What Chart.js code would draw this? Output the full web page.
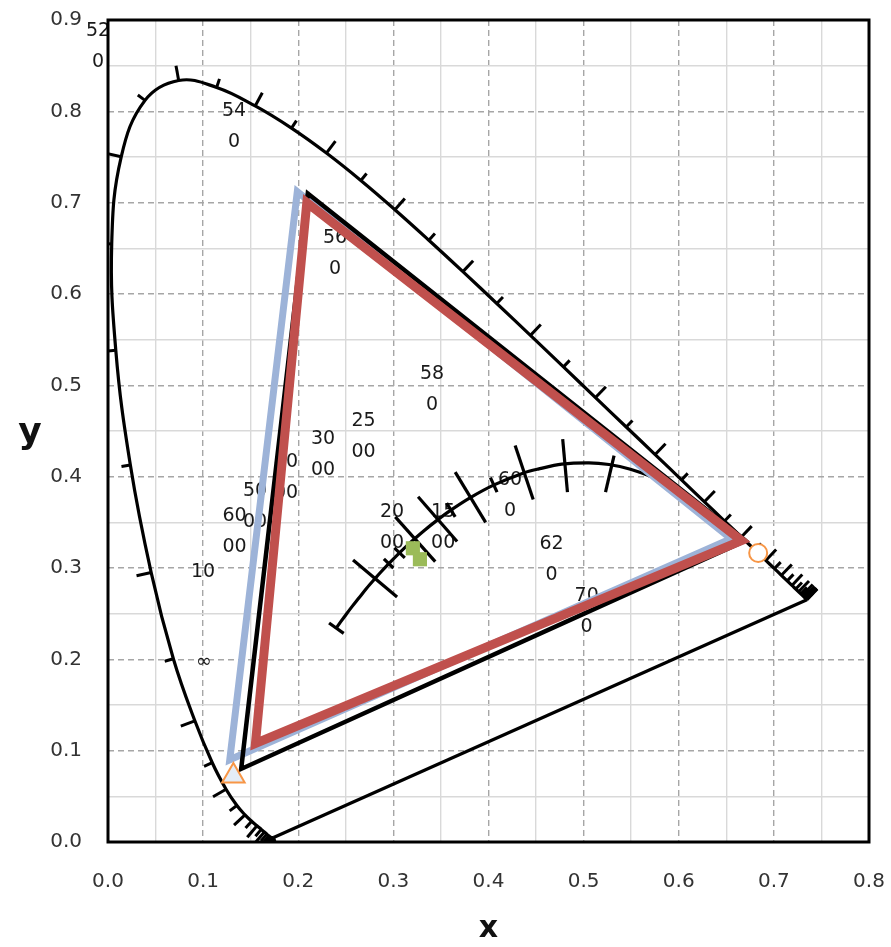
<!DOCTYPE html>
<html><head><meta charset="utf-8">
<script src="https://cdn.jsdelivr.net/npm/chart.js@4.4.0/dist/chart.umd.min.js"></script>
<style>html,body{margin:0;padding:0;background:#fff}canvas{display:block}</style>
</head><body>
<canvas id="c" width="891" height="947"></canvas>
<script>
// ---- Spectral locus (CIE 1931 2°), 5 nm steps ----
const wavelengths = [380,385,390,395,400,405,410,415,420,425,430,435,440,445,450,455,460,465,470,475,480,485,490,495,500,505,510,515,520,525,530,535,540,545,550,555,560,565,570,575,580,585,590,595,600,605,610,615,620,625,630,635,640,645,650,655,660,665,670,675,680,685,690,695,700];
const locusX = [0.1741,0.1740,0.1738,0.1736,0.1733,0.1730,0.1726,0.1721,0.1714,0.1703,0.1689,0.1669,0.1644,0.1611,0.1566,0.1510,0.1440,0.1355,0.1241,0.1096,0.0913,0.0687,0.0454,0.0235,0.0082,0.0039,0.0139,0.0389,0.0743,0.1142,0.1547,0.1929,0.2296,0.2658,0.3016,0.3373,0.3731,0.4087,0.4441,0.4788,0.5125,0.5448,0.5752,0.6029,0.6270,0.6482,0.6658,0.6801,0.6915,0.7006,0.7079,0.7140,0.7190,0.7230,0.7260,0.7283,0.7300,0.7311,0.7320,0.7327,0.7334,0.7340,0.7344,0.7346,0.7347];
const locusY = [0.0050,0.0050,0.0049,0.0049,0.0048,0.0048,0.0048,0.0048,0.0051,0.0058,0.0069,0.0086,0.0109,0.0138,0.0177,0.0227,0.0297,0.0399,0.0578,0.0868,0.1327,0.2007,0.2950,0.4127,0.5384,0.6548,0.7502,0.8120,0.8338,0.8262,0.8059,0.7816,0.7543,0.7243,0.6923,0.6589,0.6245,0.5896,0.5547,0.5202,0.4866,0.4544,0.4242,0.3965,0.3725,0.3514,0.3340,0.3197,0.3083,0.2993,0.2920,0.2859,0.2809,0.2770,0.2740,0.2717,0.2700,0.2689,0.2680,0.2673,0.2666,0.2660,0.2656,0.2654,0.2653];

// ---- Planckian locus ----
const planckT = [1000,1200,1400,1500,1600,1800,2000,2200,2500,2800,3000,3500,4000,4500,5000,5500,6000,6500,7000,8000,9000,10000,12000,15000,20000,30000,50000,'inf'];
const planckX = [0.6528,0.6251,0.5985,0.5857,0.5732,0.5492,0.5267,0.5056,0.4770,0.4521,0.4369,0.4053,0.3805,0.3608,0.3451,0.3325,0.3221,0.3135,0.3064,0.2952,0.2869,0.2807,0.2719,0.2637,0.2565,0.2501,0.2451,0.2399];
const planckY = [0.3444,0.3674,0.3858,0.3931,0.3993,0.4082,0.4133,0.4152,0.4137,0.4083,0.4041,0.3907,0.3768,0.3636,0.3516,0.3411,0.3318,0.3237,0.3166,0.3048,0.2956,0.2884,0.2779,0.2671,0.2577,0.2489,0.2418,0.2342];

// ---- Isotemperature lines crossing the Planckian locus ----
const isoNames = ['inf','10000','8000','7000','6000','5000','4500','4000','3500','3000','2500','2000'];
const isoX1 = [0.2324,0.2576,0.2900,0.3010,0.3020,0.3260,0.3560,0.3650,0.4020,0.4280,0.4780,0.5320];
const isoY1 = [0.2398,0.3088,0.3100,0.3220,0.3560,0.3780,0.3710,0.4050,0.3990,0.4340,0.4410,0.4230];
const isoX2 = [0.2478,0.3039,0.3000,0.3120,0.3440,0.3670,0.3650,0.3970,0.4090,0.4470,0.4830,0.5230];
const isoY2 = [0.2284,0.2683,0.3000,0.3110,0.3070,0.3290,0.3560,0.3500,0.3830,0.3750,0.3830,0.3830];

// ---- Gamut triangles (R, G, B) ----
const ntscX = [0.67, 0.21, 0.14];
const ntscY = [0.33, 0.71, 0.08];
const gamutBlueX = [0.655, 0.199, 0.128];
const gamutBlueY = [0.332, 0.712, 0.090];
const gamutRedX = [0.666, 0.209, 0.155];
const gamutRedY = [0.330, 0.700, 0.108];

// ---- Markers ----
const whiteX = [0.3205, 0.3279];
const whiteY = [0.3216, 0.3096];
const blueMarkX = [0.1318];
const blueMarkY = [0.0723];
const redMarkX = [0.6835];
const redMarkY = [0.3164];

// ---- Data labels (wrapped as in the original) ----
const labelText = ['52\n0','54\n0','56\n0','58\n0','60\n0','62\n0','70\n0','10','∞','60\n00','50\n00','40\n00','30\n00','25\n00','20\n00','15\n00'];
const labelX = [-0.0105,0.1325,0.2387,0.3407,0.4227,0.4663,0.5032,0.0999,0.1009,0.1330,0.1546,0.1872,0.2261,0.2687,0.2986,0.3523];
const labelY = [0.8705,0.7829,0.6438,0.4955,0.3794,0.3093,0.2518,0.2956,0.1971,0.3400,0.3668,0.3986,0.4237,0.4440,0.3444,0.3444];

// ---- Axis ticks ----
const xTickMin = 0, xTickMax = 0.8, yTickMin = 0, yTickMax = 0.9, minorStep = 0.05;

// ===== build datasets =====
const pts = (xs, ys) => xs.map((v, i) => ({x: v, y: ys[i]}));
const closed = (xs, ys) => { const p = pts(xs, ys); return p.concat([p[0], p[1]]); };
const isMajor = v => Math.abs(v * 10 - Math.round(v * 10)) < 1e-6;
const n = wavelengths.length;

function tickRotation(ctx) {
  if (ctx.type !== 'data') return 0;
  const ch = ctx.chart, sx = ch.scales.x, sy = ch.scales.y;
  if (!sx || !sy) return 0;
  const i = ctx.dataIndex, a = Math.max(i - 1, 0), b = Math.min(i + 1, n - 1);
  const dx = sx.getPixelForValue(locusX[b]) - sx.getPixelForValue(locusX[a]);
  const dy = sy.getPixelForValue(locusY[b]) - sy.getPixelForValue(locusY[a]);
  return Math.atan2(dy, dx) * 180 / Math.PI - 90;
}

const datasets = [];
// markers (top)
datasets.push({label:'white', data: pts(whiteX, whiteY), pointStyle:'rect', pointRadius:10, pointBackgroundColor:'#9BBB59', pointBorderColor:'#9BBB59', pointBorderWidth:0, showLine:false, order:0});
datasets.push({label:'blue primary', data: pts(blueMarkX, blueMarkY), pointStyle:'triangle', pointRadius:13, pointBackgroundColor:'#E4ECF6', pointBorderColor:'#F79646', pointBorderWidth:2, showLine:false, order:0});
datasets.push({label:'red primary', data: pts(redMarkX, redMarkY), pointStyle:'circle', pointRadius:9, pointBackgroundColor:'#FFFFFF', pointBorderColor:'#F79646', pointBorderWidth:2, showLine:false, order:0});
// triangles
datasets.push({label:'gamut red', data: closed(gamutRedX, gamutRedY), showLine:true, borderColor:'#C0504D', borderWidth:9, borderJoinStyle:'miter', pointRadius:0, order:1});
datasets.push({label:'NTSC', data: closed(ntscX, ntscY), showLine:true, borderColor:'#000000', borderWidth:4.5, borderJoinStyle:'miter', pointRadius:0, order:2});
datasets.push({label:'gamut blue', data: closed(gamutBlueX, gamutBlueY), showLine:true, borderColor:'#9DB3D8', borderWidth:7, borderJoinStyle:'miter', pointRadius:0, order:3});
// Planckian locus + isotherms
datasets.push({label:'planck', data: pts(planckX, planckY), showLine:true, borderColor:'#000', borderWidth:3.2, tension:0.3, pointRadius:0, order:4});
isoNames.forEach((nm, i) => {
  datasets.push({label:'iso ' + nm, data:[{x:isoX1[i], y:isoY1[i]}, {x:isoX2[i], y:isoY2[i]}], showLine:true, borderColor:'#000', borderWidth:3.2, pointRadius:0, order:4});
});
// spectral locus with wavelength ticks
datasets.push({label:'locus', data: pts(locusX, locusY), showLine:true, borderColor:'#000', borderWidth:3.2, tension:0.4,
  pointStyle:'dash', pointRadius: ctx => (ctx.type === 'data' && wavelengths[ctx.dataIndex] % 10 === 0) ? 15 : 9,
  pointRotation: tickRotation, pointBorderColor:'#000', pointBorderWidth:3, pointBackgroundColor:'#000', order:5});
datasets.push({label:'purple line', data:[{x:locusX[n-1], y:locusY[n-1]}, {x:locusX[0], y:locusY[0]}], showLine:true, borderColor:'#000', borderWidth:3.2, pointRadius:0, order:5});

// ===== plugins =====
const labelPlugin = {
  id:'dataLabels',
  beforeDatasetsDraw(chart) {
    const {ctx, scales:{x, y}} = chart;
    ctx.save();
    ctx.font = '19px "DejaVu Sans"';
    ctx.fillStyle = '#1a1a1a';
    ctx.textAlign = 'center';
    ctx.textBaseline = 'middle';
    const lh = 31;
    labelText.forEach((t, i) => {
      const lines = t.split('\n');
      const px = x.getPixelForValue(labelX[i]);
      const py = y.getPixelForValue(labelY[i]);
      const start = py - (lines.length - 1) * lh / 2;
      lines.forEach((s, k) => ctx.fillText(s, px, start + k * lh));
    });
    ctx.restore();
  }
};
const framePlugin = {
  id:'frame',
  afterDatasetsDraw(chart) {
    const {ctx, chartArea:a} = chart;
    ctx.save();
    ctx.lineWidth = 3;
    ctx.strokeStyle = '#000';
    ctx.strokeRect(a.left, a.top, a.right - a.left, a.bottom - a.top);
    ctx.restore();
  },
  afterDraw(chart) {
    const {ctx} = chart;
    ctx.save();
    ctx.font = 'bold 36px "DejaVu Sans"';
    ctx.fillStyle = '#111';
    ctx.textAlign = 'center';
    ctx.textBaseline = 'middle';
    ctx.fillText('y', 30, 434);
    ctx.restore();
  }
};

const tickFont = {family:'DejaVu Sans', size:20};
const gridOpts = {
  color: c => (c.tick && isMajor(c.tick.value)) ? '#A6A6A6' : '#D9D9D9',
  lineWidth: 1.4,
  drawTicks: false
};
const borderOpts = { display:false, dash: c => (c.tick && isMajor(c.tick.value)) ? [6, 4] : [] };

new Chart(document.getElementById('c'), {
  type:'scatter',
  data:{datasets},
  options:{
    responsive:false,
    devicePixelRatio:1,
    animation:false,
    events:[],
    layout:{autoPadding:false, padding:{left:0, top:20, right:22, bottom:0}},
    plugins:{legend:{display:false}, tooltip:{enabled:false}},
    scales:{
      x:{type:'linear', min:xTickMin, max:xTickMax,
        afterFit: s => { s.height = 105; s.paddingLeft = 0; s.paddingRight = 0; },
        ticks:{stepSize:minorStep, autoSkip:false, maxRotation:0, padding:28, color:'#333', font:tickFont,
          callback: v => isMajor(v) ? v.toFixed(1) : ''},
        grid:gridOpts, border:borderOpts,
        title:{display:true, text:'x', color:'#111', font:{family:'DejaVu Sans', size:30, weight:'bold'}, padding:{top:0, bottom:0}}
      },
      y:{type:'linear', min:yTickMin, max:yTickMax,
        afterFit: s => { s.width = 108; s.paddingTop = 0; s.paddingBottom = 0; },
        ticks:{stepSize:minorStep, autoSkip:false, padding:26, color:'#333', font:tickFont,
          callback: v => isMajor(v) ? v.toFixed(1) : ''},
        grid:gridOpts, border:borderOpts
      }
    }
  },
  plugins:[labelPlugin, framePlugin]
});
</script>
</body></html>
